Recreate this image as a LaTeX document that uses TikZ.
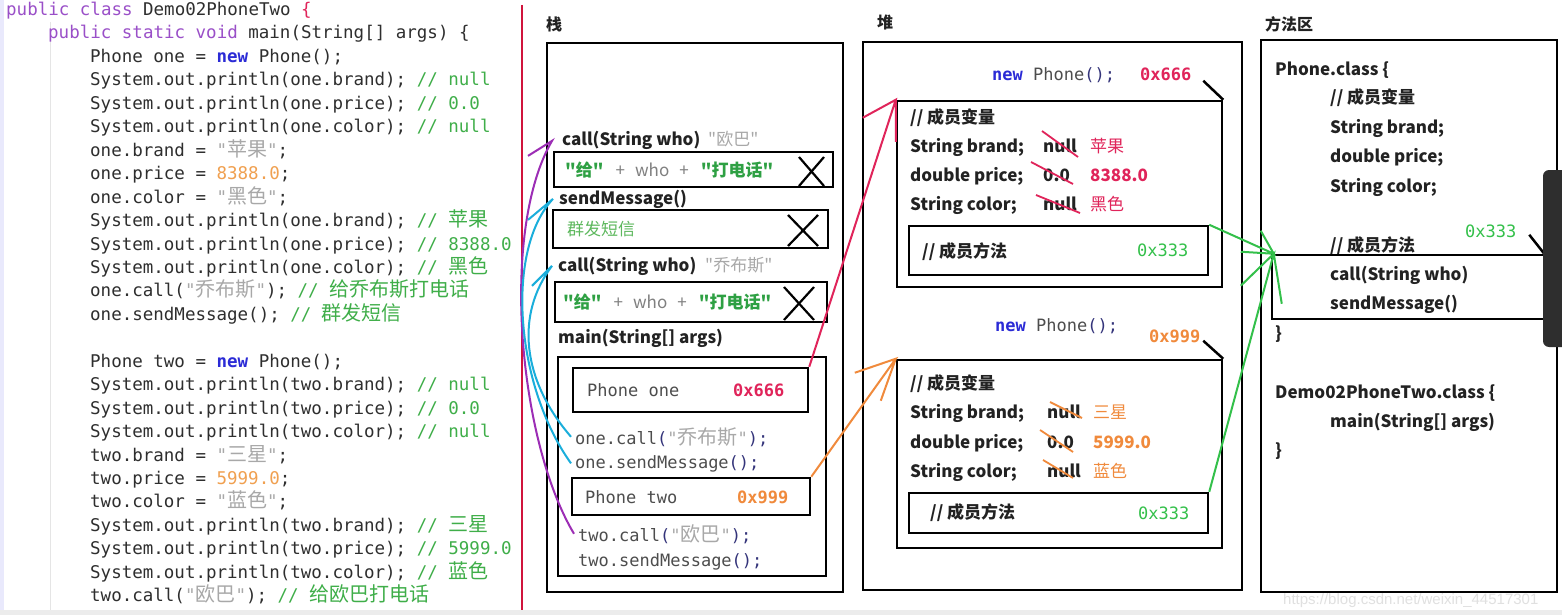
\documentclass[tikz,border=0pt]{standalone}
\usepackage{fontspec}
\setmonofont{DejaVu Sans Mono}
\newfontfamily\yh{Noto Sans CJK SC}
\newfontfamily\wmfont{Liberation Sans}
\usetikzlibrary{fit}
\frenchspacing
\definecolor{crim}{HTML}{E0245A}
\definecolor{orng}{HTML}{F08A3C}
\definecolor{grn}{HTML}{33C04A}
\definecolor{cmt}{HTML}{3FAE49}
\definecolor{kwc}{HTML}{9A4FC8}
\definecolor{nwc}{HTML}{2B2BD6}
\definecolor{strg}{HTML}{A8A8A8}
\definecolor{codec}{HTML}{2E2E2E}
\definecolor{numc}{HTML}{F0A050}
\definecolor{cyanl}{HTML}{1AAEDB}
\definecolor{purl}{HTML}{9C2DB5}
\definecolor{redl}{HTML}{D0143C}
\definecolor{navy}{HTML}{34347A}
\definecolor{sgrn}{HTML}{2EA043}
\definecolor{lgrn}{HTML}{5DB85D}
\definecolor{dtext}{HTML}{222222}
\newcommand\zc[1]{{\fontsize{20}{20}\selectfont\yh #1}}
\newcommand\kw[1]{{\color{kwc}#1}}
\newcommand\cm[1]{{\color{cmt}#1}}
\newcommand\st[1]{{\color{strg}#1}}
\newcommand\nm[1]{{\color{numc}#1}}
\newcommand\nw[1]{{\bfseries\color{nwc}#1}}
\newcommand\pn[1]{{\color{navy}#1}}
\tikzset{
  code/.style={inner sep=0pt, anchor=base west, text=codec, font=\fontsize{17.5}{20}\selectfont\ttfamily},
  scode/.style={inner sep=0pt, anchor=base west, text=codec!85, font=\fontsize{17}{20}\selectfont\ttfamily},
  bt/.style={inner sep=0pt, anchor=base west, text=dtext, font=\fontsize{17}{20}\selectfont\yh\bfseries},
  rt/.style={inner sep=0pt, anchor=base west, font=\fontsize{17}{20}\selectfont\yh},
  hexs/.style={inner sep=0pt, anchor=base west, font=\fontsize{17}{20}\selectfont\ttfamily\bfseries},
  lbl/.style={inner sep=0pt, anchor=base west, text=dtext, font=\fontsize{16}{18}\selectfont\yh\bfseries},
  frame/.style={draw=black, line width=2.5pt, inner sep=0pt},
  xmark/.style={line width=2.2pt, black},
  redc/.style={draw=crim, line width=2pt},
  orac/.style={draw=orng, line width=2pt},
  grnc/.style={draw=grn, line width=2pt},
  cyac/.style={draw=cyanl, line width=2pt},
  purc/.style={draw=purl, line width=2pt},
  strike/.style={line width=1.8pt},
}
\begin{document}
\begin{tikzpicture}[x=1pt,y=-1pt]
\useasboundingbox (0,0) rectangle (1562,615);
\fill[white] (0,0) rectangle (1562,615);
% editor decorations
\fill[gray!25!blue!10] (0,0) rectangle (4,615);
\draw[gray!20, line width=0.8pt] (50,22) -- (50,610);
\fill[gray!15] (0,610) rectangle (1562,615);
\draw[redl, line width=2.5pt] (522,5) -- (522,610);

% ---------- code ----------
\node[code] (c1) at (6,15.5) {\kw{public class} Demo02PhoneTwo {\color{crim}\{}};
\node[code] (c2) at (48,38.95) {\kw{public static void} main(String[] args) \{};
\node[code] (c3) at (90,62.4) {Phone one = \nw{new} Phone();};
\node[code] (c4) at (90,85.85) {System.out.println(one.brand); \cm{// null}};
\node[code] (c5) at (90,109.3) {System.out.println(one.price); \cm{// 0.0}};
\node[code] (c6) at (90,132.75) {System.out.println(one.color); \cm{// null}};
\node[code] (c7) at (90,156.2) {one.brand = \st{"\zc{苹果}"};};
\node[code] (c8) at (90,179.65) {one.price = \nm{8388.0};};
\node[code] (c9) at (90,203.1) {one.color = \st{"\zc{黑色}"};};
\node[code] (c10) at (90,226.55) {System.out.println(one.brand); \cm{// \zc{苹果}}};
\node[code] (c11) at (90,250.0) {System.out.println(one.price); \cm{// 8388.0}};
\node[code] (c12) at (90,273.45) {System.out.println(one.color); \cm{// \zc{黑色}}};
\node[code] (c13) at (90,296.9) {one.call(\st{"\zc{乔布斯}"}); \cm{// \zc{给乔布斯打电话}}};
\node[code] (c14) at (90,320.35) {one.sendMessage(); \cm{// \zc{群发短信}}};
\node[code] (c16) at (90,367.25) {Phone two = \nw{new} Phone();};
\node[code] (c17) at (90,390.7) {System.out.println(two.brand); \cm{// null}};
\node[code] (c18) at (90,414.15) {System.out.println(two.price); \cm{// 0.0}};
\node[code] (c19) at (90,437.6) {System.out.println(two.color); \cm{// null}};
\node[code] (c20) at (90,461.05) {two.brand = \st{"\zc{三星}"};};
\node[code] (c21) at (90,484.5) {two.price = \nm{5999.0};};
\node[code] (c22) at (90,507.95) {two.color = \st{"\zc{蓝色}"};};
\node[code] (c23) at (90,531.4) {System.out.println(two.brand); \cm{// \zc{三星}}};
\node[code] (c24) at (90,554.85) {System.out.println(two.price); \cm{// 5999.0}};
\node[code] (c25) at (90,578.3) {System.out.println(two.color); \cm{// \zc{蓝色}}};
\node[code] (c26) at (90,601.75) {two.call(\st{"\zc{欧巴}"}); \cm{// \zc{给欧巴打电话}}};

% ---------- stack ----------
\node[lbl] (stklbl) at (546,31) {栈};
\node[frame, fit={(547,43) (843,592)}] (stack) {};
\node[bt] (call1) at (562,146) {call(String who)};
\node[rt, text=strg] (who1) at (708,146) {"欧巴"};
\node[frame, fit={(554,152) (833,187)}] (f1) {};
\node[rt] (f1t) at (565,176) {{\bfseries\color{sgrn}"给"}\hspace{12pt}{\color{gray}+\hspace{10pt}who\hspace{10pt}+}\hspace{12pt}{\bfseries\color{sgrn}"打电话"}};
\draw[xmark] (799,157) -- (824,186) (824,157) -- (799,186);
\node[bt] (send) at (559,204) {sendMessage()};
\node[frame, fit={(553,210) (828,248)}] (f2) {};
\node[rt, text=lgrn] (f2t) at (567,235) {群发短信};
\draw[xmark] (788,215) -- (818,246) (818,215) -- (788,246);
\node[bt] (call2) at (558,271) {call(String who)};
\node[rt, text=strg] (who2) at (705,271) {"乔布斯"};
\node[frame, fit={(555,282) (827,322)}] (f3) {};
\node[rt] (f3t) at (563,308) {{\bfseries\color{sgrn}"给"}\hspace{12pt}{\color{gray}+\hspace{10pt}who\hspace{10pt}+}\hspace{12pt}{\bfseries\color{sgrn}"打电话"}};
\draw[xmark] (784,287) -- (814,320) (814,287) -- (784,320);
\node[bt] (mainl) at (558,343) {main(String[] args)};
\node[frame, fit={(558,357) (826,576)}] (mainbox) {};
\node[frame, fit={(573,368) (808,412)}] (one) {};
\node[scode] (onet) at (587,396) {Phone one};
\node[hexs, text=crim] (onehex) at (733,396) {0x666};
\node[scode] (onecall) at (575,444) {one.call\pn{(}\st{"\zc{乔布斯}"}\pn{);}};
\node[scode] (onesend) at (575,468) {one.sendMessage\pn{();}};
\node[frame, fit={(572,478) (810,515)}] (two) {};
\node[scode] (twot) at (585,503) {Phone two};
\node[hexs, text=orng] (twohex) at (737,503) {0x999};
\node[scode] (twocall) at (578,541) {two.call\pn{(}\st{"\zc{欧巴}"}\pn{);}};
\node[scode] (twosend) at (578,566) {two.sendMessage\pn{();}};

% ---------- heap ----------
\node[lbl] (heaplbl) at (877,29) {堆};
\node[frame, fit={(863,42) (1242,590)}] (heap) {};
% object 1
\node[scode] (new1) at (992,81) {\nw{new} Phone\pn{();}};
\node[hexs, text=crim] (hex1) at (1140,81) {0x666};
\node[frame, fit={(897,101) (1222,287)}] (obj1) {};
\draw[line width=2.5pt] (obj1.north east) -- ++(-20,-19);
\node[bt] (o1a) at (910,124) {// 成员变量};
\node[bt] (o1b) at (910,152) {String brand;};
\node[bt] (o1c) at (910,181) {double price;};
\node[bt] (o1d) at (910,210) {String color;};
\node[bt] (o1bv) at (1043,152) {null};
\node[bt] (o1cv) at (1043,181) {0.0};
\node[bt] (o1dv) at (1043,210) {null};
\draw[strike, crim] (1042,131) -- (1078,157) (1031,162) -- (1073,184) (1036,195) -- (1080,213);
\node[rt, text=crim] (o1bn) at (1090,152) {苹果};
\node[bt, text=crim] (o1cn) at (1090,181) {8388.0};
\node[rt, text=crim] (o1dn) at (1090,210) {黑色};
\node[frame, fit={(909,226) (1208,275)}] (m1) {};
\node[bt] (m1t) at (922,257) {// 成员方法};
\node[hexs, text=grn, font=\fontsize{17}{20}\selectfont\ttfamily] (m1hex) at (1137,256) {0x333};
% object 2
\node[scode] (new2) at (995,331) {\nw{new} Phone\pn{();}};
\node[hexs, text=orng] (hex2) at (1149,342) {0x999};
\node[frame, fit={(897,360) (1222,548)}] (obj2) {};
\draw[line width=2.5pt] (obj2.north east) -- ++(-20,-18);
\node[bt] (o2a) at (910,389) {// 成员变量};
\node[bt] (o2b) at (910,418) {String brand;};
\node[bt] (o2c) at (910,448) {double price;};
\node[bt] (o2d) at (910,477) {String color;};
\node[bt] (o2bv) at (1047,418) {null};
\node[bt] (o2cv) at (1047,448) {0.0};
\node[bt] (o2dv) at (1047,477) {null};
\draw[strike, orng] (1050,402) -- (1082,418) (1040,430) -- (1073,452) (1043,460) -- (1073,478);
\node[rt, text=orng] (o2bn) at (1093,418) {三星};
\node[bt, text=orng] (o2cn) at (1093,448) {5999.0};
\node[rt, text=orng] (o2dn) at (1093,477) {蓝色};
\node[frame, fit={(909,493) (1208,533)}] (m2) {};
\node[bt] (m2t) at (930,518) {// 成员方法};
\node[hexs, text=grn, font=\fontsize{17}{20}\selectfont\ttfamily] (m2hex) at (1138,519) {0x333};

% ---------- method area ----------
\node[lbl] (malbl) at (1265,31) {方法区};
\node[frame, fit={(1261,40) (1557,592)}] (marea) {};
\node[bt] (p1) at (1275,76) {Phone.class \{};
\node[bt] (p2) at (1330,104) {// 成员变量};
\node[bt] (p3) at (1330,133) {String brand;};
\node[bt] (p4) at (1330,162) {double price;};
\node[bt] (p5) at (1330,192) {String color;};
\node[hexs, text=grn, font=\fontsize{17}{20}\selectfont\ttfamily] (p6) at (1465,237) {0x333};
\node[bt] (p7) at (1330,251) {// 成员方法};
\node[frame, fit={(1272,255) (1548,319)}] (mbox) {};
\draw[line width=2.5pt] ([xshift=-5pt]mbox.north east) -- ++(-15,-19);
\node[bt] (p8) at (1330,280) {call(String who)};
\node[bt] (p9) at (1330,309) {sendMessage()};
\node[bt] (p10) at (1275,339) {\}};
\node[bt] (p11) at (1275,398) {Demo02PhoneTwo.class \{};
\node[bt] (p12) at (1330,427) {main(String[] args)};
\node[bt] (p13) at (1275,456) {\}};

% ---------- connectors ----------
\draw[redc] (one.north east) -- (obj1.north west) -- ++(-33,18) (obj1.north west) -- ++(0,42);
\draw[orac] (two.north east) -- (obj2.north west) -- ++(-41,14) (obj2.north west) -- ++(-15,42);
\draw[grnc] (m1.north east) -- ([xshift=3pt]mbox.north west) -- ++(-13,-23) ([xshift=3pt]mbox.north west) -- ++(-33,-2);
\draw[grnc] (m2.north east) -- ([xshift=3pt]mbox.north west) -- ++(-33,32) ([xshift=3pt]mbox.north west) -- ++(8,50);
\draw[purc] ([xshift=-4pt]twocall.west) .. controls (518,440) and (500,230) .. ([xshift=-10pt]call1.west) -- ++(-24,15);
\draw[cyac] ([xshift=-4pt]onesend.west) .. controls (515,385) and (505,250) .. ([xshift=-6pt]send.west) -- ++(-25,21);
\draw[cyac] ([xshift=-4pt]onecall.west) .. controls (522,380) and (515,315) .. ([xshift=-6pt]call2.west) -- ++(-20,20);

% overlay bar and watermark
\fill[black!82, rounded corners=6pt] (1570,170) -- (1543,170) -- (1543,347) -- (1570,347);
\node[inner sep=0pt, anchor=base west, text=black!12, font=\fontsize{15}{18}\selectfont\wmfont] (wm) at (1283,604) {https://blog.csdn.net/weixin\_44517301};
\end{tikzpicture}
\end{document}
